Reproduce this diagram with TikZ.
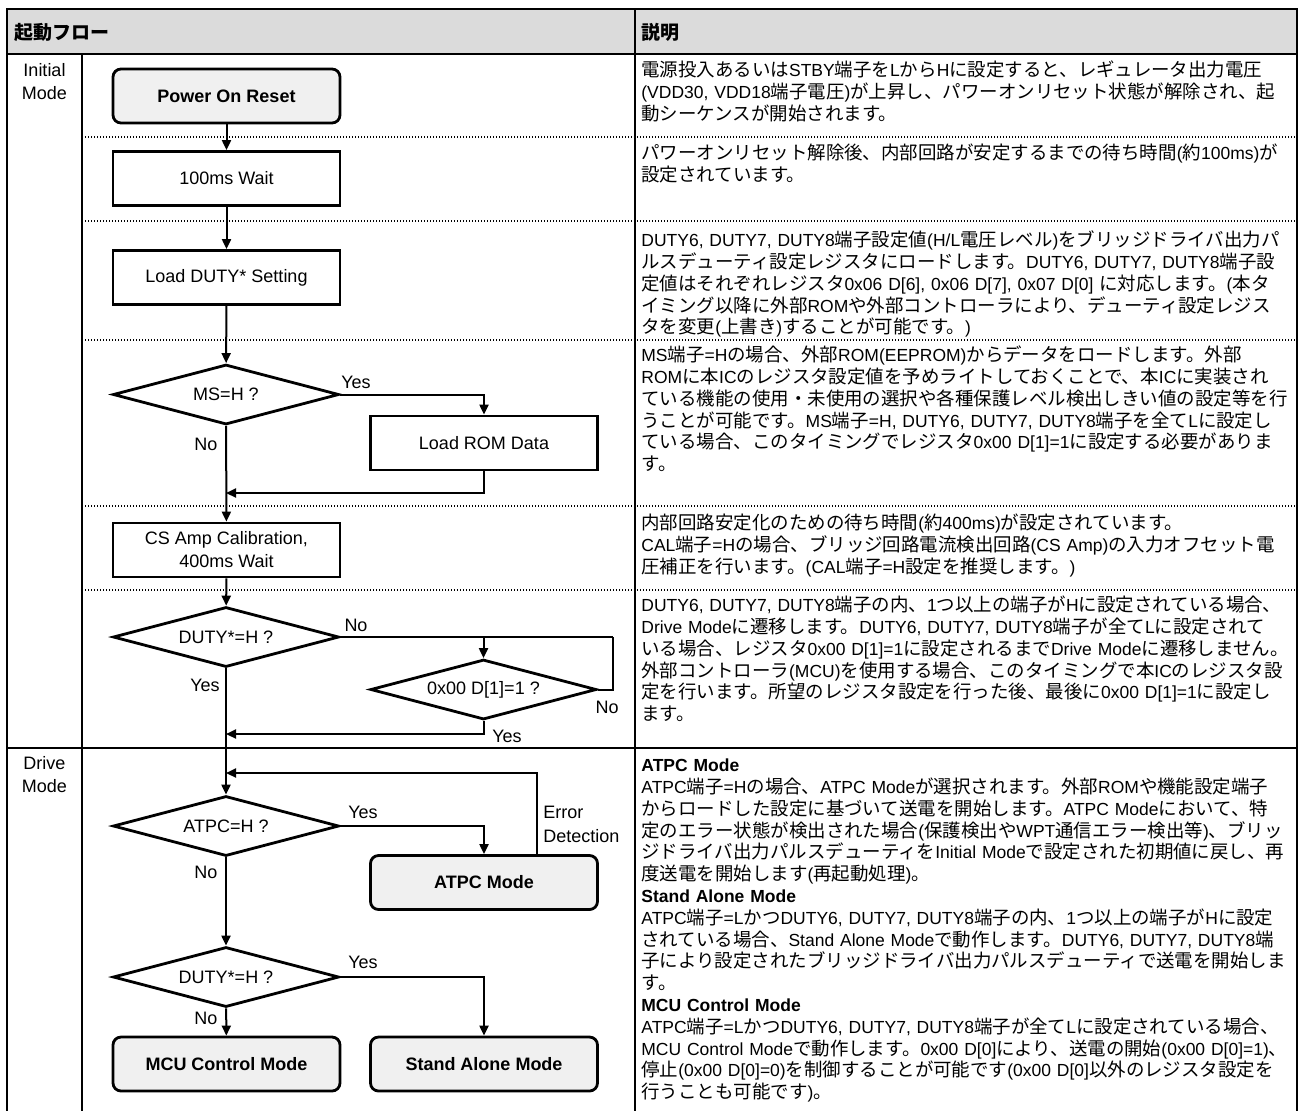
\documentclass[tikz,border=0pt]{standalone}
\usepackage{fontspec}
\setmainfont{Liberation Sans}
\newfontfamily\jpfam[Scale=1.055]{Noto Sans CJK JP}
\usetikzlibrary{shapes.geometric,arrows.meta}

% switch to the Japanese font for CJK characters
\newcount\jpcnt
\newXeTeXintercharclass\jpclass
\def\setjprange#1#2{\jpcnt=#1 \loop\XeTeXcharclass\jpcnt=\jpclass
  \ifnum\jpcnt<#2 \advance\jpcnt by 1 \repeat}
\setjprange{"3000}{"30FF}
\setjprange{"4E00}{"9FFF}
\setjprange{"FF00}{"FFEF}
\XeTeXinterchartoks 0 \jpclass = {\jpfam}
\XeTeXinterchartoks 4095 \jpclass = {\jpfam}
\XeTeXinterchartoks \jpclass 0 = {\rmfamily}
\XeTeXinterchartoks \jpclass 4095 = {\rmfamily}
\XeTeXinterchartokenstate=1

\definecolor{headgray}{gray}{0.86}
\definecolor{boxgray}{gray}{0.94}
\newcommand{\flowfont}{\fontsize{9pt}{11.5pt}\selectfont}
\newcommand{\descfont}{\fontsize{8.75pt}{10.9pt}\selectfont}

\tikzset{%
	block/.style    = {draw, line width=1.4pt, rectangle, minimum height = 27pt,
		minimum width = 113.5pt, font=\flowfont},
	mode/.style     = {block, rounded corners=4pt, fill=boxgray, font=\flowfont\bfseries}, % Mode box
	decision/.style = {draw, line width=1.4pt, diamond, aspect=4, inner sep=0pt,
		minimum width = 113pt, minimum height = 30pt, font=\flowfont}, % Branch
	flow/.style     = {line width=1pt, -{Triangle[length=5pt,width=4.5pt]}}, % Arrow
	line/.style     = {line width=1pt}, % Plain connector
	lbl/.style      = {font=\flowfont, inner sep=0pt}, % Yes / No
	desc/.style     = {anchor=base west, inner sep=0pt, text width=328pt, align=left,
		font=\descfont}, % Description
	rowsep/.style   = {line width=0.7pt, dash pattern=on 0.7pt off 0.8pt} % Dotted row line
}

\begin{document}
\begin{tikzpicture}[x=0.5pt,y=-0.5pt]
			\useasboundingbox (0,0) rectangle (1309,1110);
			
			% table
			\fill[headgray] (7,9) rectangle (1297,54);
			\draw[line width=0.8pt] (7,1112) -- (7,9) -- (1297,9) -- (1297,1112);
			\draw[line width=0.8pt] (7,54) -- (1297,54);
			\draw[line width=0.8pt] (82,54) -- (82,1112);
			\draw[line width=0.8pt] (635,9) -- (635,1112);
			\draw[line width=1pt] (7,748) -- (1297,748);
			\foreach \y in {137,221,340,506,590}
				\draw[rowsep] (82,\y) -- (1297,\y);
			
			\node[anchor=west, inner sep=0pt, font=\flowfont\bfseries] (hflow) at (14,32) {起動フロー};
			\node[anchor=west, inner sep=0pt, font=\flowfont\bfseries] (hdesc) at (641,32) {説明};
			\node[lbl, align=center, font=\fontsize{9pt}{11.5pt}\selectfont] (initmode) at (44.5,81.5) {Initial\\Mode};
			\node[lbl, align=center, font=\fontsize{9pt}{11.5pt}\selectfont] (drivemode) at (44.5,775) {Drive\\Mode};
			
			% flow
			\node[mode] (por) at (226.5,96) {Power On Reset};
			\node[block] (wait) at (226.5,178.5) {100ms Wait};
			\node[block] (loadduty) at (226.5,277.5) {Load DUTY* Setting};
			\node[decision] (msh) at (226,394.5) {MS=H ?};
			\node[block] (loadrom) at (484,443) {Load ROM Data};
			\node[block, align=center] (csamp) at (226.5,550) {CS Amp Calibration,\\400ms Wait};
			\node[decision] (dutyh) at (226,637) {DUTY*=H ?};
			\node[decision] (regchk) at (483.5,689.5) {0x00 D[1]=1 ?};
			\node[decision] (atpch) at (226,826) {ATPC=H ?};
			\node[mode] (atpc) at (484,882.5) {ATPC Mode};
			\node[decision] (dutyh2) at (226,977) {DUTY*=H ?};
			\node[mode] (mcu) at (226.5,1064) {MCU Control Mode};
			\node[mode] (alone) at (484,1064) {Stand Alone Mode};
			
			\coordinate (mrom) at (226,493);
			\coordinate (nobend) at (613,637);
			\coordinate (mreg) at (226,734);
			\coordinate (errtop) at (537,773);
			\coordinate (merr) at (226,773);
			
			\draw[flow] (por) -- (wait);
			\draw[flow] (wait) -- (loadduty);
			\draw[flow] (loadduty) -- (msh);
			\draw[flow] (msh.east) -| (loadrom.north);
			\draw[flow] (loadrom.south) |- (mrom);
			\draw[flow] (msh) -- (csamp);
			\draw[flow] (csamp) -- (dutyh);
			\draw[line] (dutyh.east) -- (nobend);
			\draw[flow] (regchk.north |- nobend) -- (regchk.north);
			\draw[line] (regchk.east) -| (nobend);
			\draw[flow] (regchk.south) |- (mreg);
			\draw[flow] (dutyh) -- (atpch);
			\draw[flow] (atpch.east) -| (atpc.north);
			\draw[flow] (atpc.north -| errtop) -- (errtop) -- (merr);
			\draw[flow] (atpch) -- (dutyh2);
			\draw[flow] (dutyh2.east) -| (alone.north);
			\draw[flow] (dutyh2) -- (mcu);
			
			\node[lbl] (yesms) at (356,382) {Yes};
			\node[lbl] (noms) at (206,444) {No};
			\node[lbl] (nodh) at (356,625) {No};
			\node[lbl] (yesdh) at (205,685) {Yes};
			\node[lbl] (noreg) at (607,707) {No};
			\node[lbl] (yesreg) at (507,736) {Yes};
			\node[lbl] (yesatpc) at (363,812) {Yes};
			\node[lbl] (noatpc) at (206,872) {No};
			\node[lbl, anchor=west, align=left, font=\fontsize{9pt}{12pt}\selectfont] (errdet) at (543,824) {Error\\Detection};
			\node[lbl] (yesdh2) at (363,962) {Yes};
			\node[lbl] (nodh2) at (206,1018) {No};
			
			% descriptions
			\node[desc] (d1) at (641,76.7) {電源投入あるいはSTBY端子をLからHに設定すると、レギュレータ出力電圧\\
				(VDD30, VDD18端子電圧)が上昇し、パワーオンリセット状態が解除され、起\\
				動シーケンスが開始されます。};
			\node[desc] (d2) at (641,159.7) {パワーオンリセット解除後、内部回路が安定するまでの待ち時間(約100ms)が\\
				設定されています。};
			\node[desc] (d3) at (641,246.7) {DUTY6, DUTY7, DUTY8端子設定値(H/L電圧レベル)をブリッジドライバ出力パ\\
				ルスデューティ設定レジスタにロードします。DUTY6, DUTY7, DUTY8端子設\\
				定値はそれぞれレジスタ0x06 D[6], 0x06 D[7], 0x07 D[0] に対応します。(本タ\\
				イミング以降に外部ROMや外部コントローラにより、デューティ設定レジス\\
				タを変更(上書き)することが可能です。)};
			\node[desc] (d4) at (641,361.7) {MS端子=Hの場合、外部ROM(EEPROM)からデータをロードします。外部\\
				ROMに本ICのレジスタ設定値を予めライトしておくことで、本ICに実装され\\
				ている機能の使用・未使用の選択や各種保護レベル検出しきい値の設定等を行\\
				うことが可能です。MS端子=H, DUTY6, DUTY7, DUTY8端子を全てLに設定し\\
				ている場合、このタイミングでレジスタ0x00 D[1]=1に設定する必要がありま\\
				す。};
			\node[desc] (d5) at (641,529.7) {内部回路安定化のための待ち時間(約400ms)が設定されています。\\
				CAL端子=Hの場合、ブリッジ回路電流検出回路(CS Amp)の入力オフセット電\\
				圧補正を行います。(CAL端子=H設定を推奨します。)};
			\node[desc] (d6) at (641,611.7) {DUTY6, DUTY7, DUTY8端子の内、1つ以上の端子がHに設定されている場合、\\
				Drive Modeに遷移します。DUTY6, DUTY7, DUTY8端子が全てLに設定されて\\
				いる場合、レジスタ0x00 D[1]=1に設定されるまでDrive Modeに遷移しません。\\
				外部コントローラ(MCU)を使用する場合、このタイミングで本ICのレジスタ設\\
				定を行います。所望のレジスタ設定を行った後、最後に0x00 D[1]=1に設定し\\
				ます。};
			\node[desc] (d7) at (641,771.7) {\textbf{ATPC Mode}\\
				ATPC端子=Hの場合、ATPC Modeが選択されます。外部ROMや機能設定端子\\
				からロードした設定に基づいて送電を開始します。ATPC Modeにおいて、特\\
				定のエラー状態が検出された場合(保護検出やWPT通信エラー検出等)、ブリッ\\
				ジドライバ出力パルスデューティをInitial Modeで設定された初期値に戻し、再\\
				度送電を開始します(再起動処理)。\\
				\textbf{Stand Alone Mode}\\
				ATPC端子=LかつDUTY6, DUTY7, DUTY8端子の内、1つ以上の端子がHに設定\\
				されている場合、Stand Alone Modeで動作します。DUTY6, DUTY7, DUTY8端\\
				子により設定されたブリッジドライバ出力パルスデューティで送電を開始しま\\
				す。\\
				\textbf{MCU Control Mode}\\
				ATPC端子=LかつDUTY6, DUTY7, DUTY8端子が全てLに設定されている場合、\\
				MCU Control Modeで動作します。0x00 D[0]により、送電の開始(0x00 D[0]=1)、\\
				停止(0x00 D[0]=0)を制御することが可能です(0x00 D[0]以外のレジスタ設定を\\
				行うことも可能です)。};
		\end{tikzpicture}
\end{document}
